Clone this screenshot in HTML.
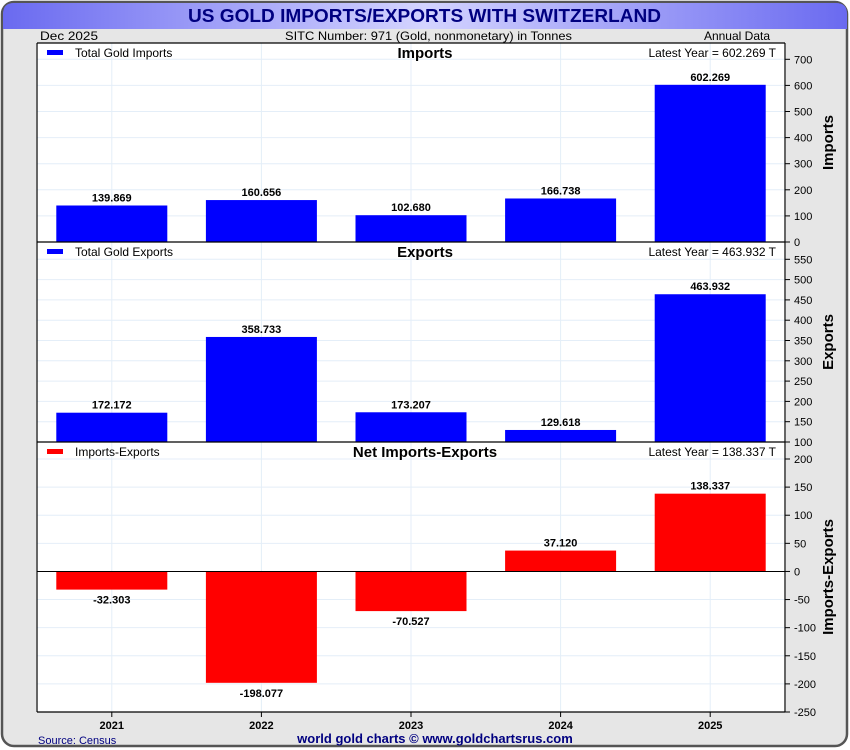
<!DOCTYPE html>
<html><head><meta charset="utf-8"><style>
body{margin:0;background:#fff}
svg{display:block;font-family:"Liberation Sans",sans-serif}
</style></head><body>
<svg id="c" width="850" height="750" xmlns="http://www.w3.org/2000/svg">
<defs><linearGradient id="tg" x1="0" x2="1" y1="0" y2="0">
<stop offset="0" stop-color="#6a6af0"/><stop offset="0.5" stop-color="#d4d4ff"/><stop offset="1" stop-color="#6a6af0"/></linearGradient></defs>
<rect x="2" y="2" width="845" height="744" rx="12" fill="#e6e6e6" stroke="#555" stroke-width="2.5"/>
<path d="M3,29 L3,14 Q3,3 14,3 L836,3 Q847,3 847,14 L847,29 Z" fill="url(#tg)"/>
<text x="188" y="22" font-size="18" font-weight="bold" fill="#000080" textLength="473" lengthAdjust="spacingAndGlyphs">US GOLD IMPORTS/EXPORTS WITH SWITZERLAND</text>
<text x="40" y="40" font-size="12" textLength="58" lengthAdjust="spacingAndGlyphs">Dec  2025</text>
<text x="285" y="40" font-size="12" textLength="287" lengthAdjust="spacingAndGlyphs">SITC Number: 971 (Gold, nonmonetary) in Tonnes</text>
<text x="770" y="40" text-anchor="end" font-size="12">Annual Data</text>
<rect x="36" y="43" width="750" height="669" fill="#fff"/>
<g id="g"></g>
<text x="38" y="744" font-size="11" fill="#000080">Source: Census</text>
<text x="435" y="743" text-anchor="middle" font-size="13" font-weight="bold" fill="#000080">world gold charts © www.goldchartsrus.com</text>
</svg>
<script>
const years=["2021","2022","2023","2024","2025"];
const imports=[139.869,160.656,102.680,166.738,602.269];
const exportsV=[172.172,358.733,173.207,129.618,463.932];
const net=[-32.303,-198.077,-70.527,37.120,138.337];
const impTicks=[0,100,200,300,400,500,600,700];
const expTicks=[100,150,200,250,300,350,400,450,500,550];
const netTicks=[-250,-200,-150,-100,-50,0,50,100,150,200];
const NS="http://www.w3.org/2000/svg";
const g=document.getElementById('g');
const X0=37,X1=785,step=(X1-X0)/years.length,bw=111;
const xc=i=>X0+(i+0.5)*step;
function el(t,a,txt){const e=document.createElementNS(NS,t);for(const k in a)e.setAttribute(k,a[k]);if(txt!==undefined)e.textContent=txt;g.appendChild(e);return e;}
function panel(o){
 const y=v=>o.bot-(v-o.min)/(o.max-o.min)*(o.bot-o.top);
 o.ticks.forEach(t=>{const l=el('line',{x1:X0,x2:X1,y1:y(t),y2:y(t),stroke:'#e4eef8'});
 
 });
 years.forEach((yr,i)=>{const l=el('line',{x1:xc(i),x2:xc(i),y1:o.top0,y2:o.bot0,stroke:'#e4eef8'});
 
 });
 const base=y(o.base);
 o.vals.forEach((v,i)=>{const yv=y(v);const r=el('rect',{x:xc(i)-bw/2,y:Math.min(yv,base),width:bw,height:Math.abs(base-yv),fill:o.color});
 
 
 const ty=v>=o.base?yv-4:yv+14;
 const t=el('text',{x:xc(i),y:ty,'text-anchor':'middle','font-size':11,'font-weight':'bold'},v.toFixed(3));
 
 });
 if(o.zero){const l=el('line',{x1:X0,x2:X1,y1:base,y2:base,stroke:'#000'});
 
 }
 o.ticks.forEach(t=>{const yy=y(t);if(yy<o.top0-1||yy>o.bot0+1)return;
 const l=el('line',{x1:X1,x2:X1+5,y1:yy,y2:yy,stroke:'#000'});
 
 
 const tx=el('text',{x:X1+9,y:yy+4,'font-size':11},String(t));
 
 });
 const lr=el('rect',{x:47,y:o.top0+7,width:16,height:5,fill:o.color});
 
 
 const lt=el('text',{x:75,y:o.top0+14,'font-size':12},o.legend);
 
 
 const pt=el('text',{x:425,y:o.top0+15,'text-anchor':'middle','font-size':15,'font-weight':'bold'},o.title);
 
 
 const ly=el('text',{x:776,y:o.top0+14,'text-anchor':'end','font-size':12},'Latest Year = '+o.vals[o.vals.length-1].toFixed(3)+' T');
 
 
 const cy=(o.top0+o.bot0)/2;
 const at=el('text',{x:0,y:0,'text-anchor':'middle','font-size':15,'font-weight':'bold',transform:`translate(833,${cy}) rotate(-90)`},o.title.indexOf('Net')==0?'Imports-Exports':o.title);
 
 
}
panel({name:'imports',vals:imports,ticks:impTicks,min:0,max:700,top:59.3,bot:242,top0:43,bot0:242,base:0,color:'#0000ff',legend:'Total Gold Imports',title:'Imports'});
panel({name:'exports',vals:exportsV,ticks:expTicks,min:100,max:550,top:259.3,bot:442,top0:242,bot0:442,base:100,color:'#0000ff',legend:'Total Gold Exports',title:'Exports'});
panel({name:'net',vals:net,ticks:netTicks,min:-250,max:200,top:459,bot:712,top0:442,bot0:712,base:0,color:'#ff0000',legend:'Imports-Exports',title:'Net Imports-Exports',zero:true});
[[X0,43,X0,712],[X1,43,X1,712],[X0,712,X1,712],[X0,43,X1,43],[X0,242,X1,242],[X0,442,X1,442]].forEach(a=>{
 const l=el('line',{x1:a[0],y1:a[1],x2:a[2],y2:a[3],stroke:'#000','stroke-width':1.2});
 
 });
years.forEach((yr,i)=>{
 const l=el('line',{x1:xc(i),x2:xc(i),y1:712,y2:717,stroke:'#000'});
 
 
 const t=el('text',{x:xc(i),y:729,'text-anchor':'middle','font-size':11,'font-weight':'bold'},yr);
 
 });
</script>
</body></html>
